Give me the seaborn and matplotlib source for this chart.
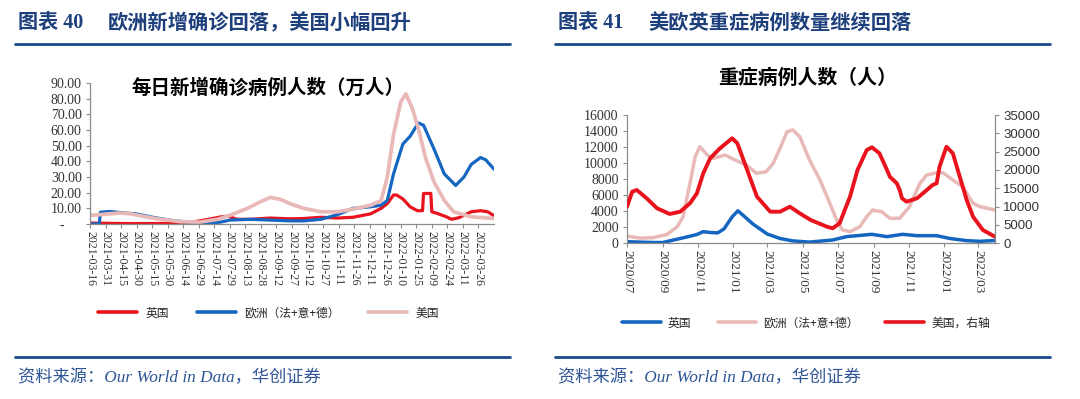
import numpy as np
import pandas as pd
import matplotlib
matplotlib.use("Agg")
import matplotlib.pyplot as plt
import seaborn as sns
from matplotlib.lines import Line2D
import matplotlib.dates as mdates

# ---------------- data: left chart (daily new cases, 10k) ----------------
uk_new_dates = ['2021-03-16', '2021-04-04', '2021-04-24', '2021-05-18', '2021-06-06', '2021-06-20',
                '2021-06-30', '2021-07-10', '2021-07-20', '2021-07-27', '2021-08-05', '2021-08-18',
                '2021-09-06', '2021-09-25', '2021-10-08', '2021-10-25', '2021-11-10', '2021-11-25',
                '2021-12-12', '2021-12-22', '2021-12-28', '2022-01-03', '2022-01-06', '2022-01-12',
                '2022-01-19', '2022-01-26', '2022-01-31', '2022-02-01', '2022-02-08', '2022-02-09',
                '2022-02-14', '2022-02-23', '2022-02-28', '2022-03-07', '2022-03-19', '2022-03-28',
                '2022-04-04', '2022-04-10']
uk_new = [0.6, 0.4, 0.3, 0.3, 0.5, 1.0,
          2.0, 3.2, 4.5, 5.0, 3.0, 3.0,
          3.8, 3.3, 3.5, 4.3, 3.8, 4.3,
          6.5, 10.0, 13.0, 18.5, 18.5, 16.0,
          11.0, 8.5, 8.5, 19.5, 19.5, 7.8,
          6.8, 4.6, 3.0, 4.0, 7.8, 8.5,
          7.8, 5.3]

eu_new_dates = ['2021-03-16', '2021-03-25', '2021-03-26', '2021-04-04', '2021-04-19', '2021-04-29',
                '2021-05-18', '2021-06-06', '2021-06-26', '2021-07-10', '2021-07-20', '2021-07-29',
                '2021-08-18', '2021-09-06', '2021-09-25', '2021-10-08', '2021-10-25', '2021-11-10',
                '2021-11-25', '2021-12-12', '2021-12-22', '2021-12-28', '2022-01-03', '2022-01-12',
                '2022-01-19', '2022-01-27', '2022-02-01', '2022-02-11', '2022-02-21', '2022-03-04',
                '2022-03-12', '2022-03-19', '2022-03-28', '2022-04-02', '2022-04-10']
eu_new = [0.0, 0.0, 7.5, 8.0, 7.0, 6.5,
          4.0, 2.0, 0.8, 0.6, 1.2, 2.5,
          3.0, 2.5, 2.0, 2.0, 3.0, 6.0,
          10.0, 11.0, 12.0, 15.0, 32.0, 51.0,
          56.0, 64.5, 63.0, 48.0, 32.0, 24.6,
          30.0, 38.0, 42.4, 41.0, 35.0]

us_new_dates = ['2021-03-16', '2021-04-04', '2021-04-13', '2021-04-24', '2021-05-18', '2021-06-11',
                '2021-06-30', '2021-07-17', '2021-07-29', '2021-08-15', '2021-08-27', '2021-09-06',
                '2021-09-16', '2021-09-25', '2021-10-08', '2021-10-25', '2021-11-10', '2021-11-25',
                '2021-12-12', '2021-12-22', '2021-12-28', '2022-01-03', '2022-01-10', '2022-01-15',
                '2022-01-21', '2022-01-27', '2022-02-03', '2022-02-11', '2022-02-21', '2022-03-02',
                '2022-03-19', '2022-04-10']
us_new = [5.5, 6.5, 7.0, 6.5, 3.5, 1.5,
          1.2, 3.0, 5.5, 10.0, 14.0, 17.0,
          15.7, 13.0, 10.0, 7.8, 7.8, 9.5,
          12.0, 15.0, 30.0, 57.0, 78.0, 83.0,
          74.0, 61.0, 42.0, 27.0, 15.0, 7.8,
          4.6, 3.5]

left_yticks = [0, 10, 20, 30, 40, 50, 60, 70, 80, 90]
left_yticklabels = ['-     ', '10.00', '20.00', '30.00', '40.00', '50.00', '60.00', '70.00', '80.00', '90.00']

# ---------------- data: right chart (ICU patients) ----------------
uk_icu_dates = ['2020-07-01', '2020-08-15', '2020-09-01', '2020-09-19', '2020-10-13', '2020-10-30',
                '2020-11-10', '2020-11-22', '2020-12-05', '2020-12-16', '2020-12-30', '2021-01-09',
                '2021-01-21', '2021-02-04', '2021-03-01', '2021-03-23', '2021-04-14', '2021-05-13',
                '2021-06-22', '2021-07-16', '2021-08-29', '2021-09-24', '2021-10-21', '2021-11-15',
                '2021-12-19', '2022-01-11', '2022-02-09', '2022-03-04', '2022-03-30']
uk_icu = [200, 100, 100, 400, 800, 1100,
          1450, 1350, 1300, 1800, 3300, 4050,
          3300, 2400, 1150, 600, 300, 150,
          410, 830, 1120, 830, 1120, 950,
          950, 600, 330, 250, 350]

eu_icu_dates = ['2020-07-01', '2020-07-23', '2020-08-15', '2020-09-08', '2020-09-26', '2020-10-06',
                '2020-10-18', '2020-10-27', '2020-11-04', '2020-11-17', '2020-11-27', '2020-12-18',
                '2021-01-04', '2021-01-24', '2021-02-10', '2021-02-27', '2021-03-11', '2021-03-23',
                '2021-04-04', '2021-04-14', '2021-04-26', '2021-05-13', '2021-05-31', '2021-06-17',
                '2021-06-29', '2021-07-09', '2021-07-22', '2021-08-08', '2021-08-20', '2021-08-30',
                '2021-09-15', '2021-09-29', '2021-10-16', '2021-11-02', '2021-11-20', '2021-12-02',
                '2021-12-19', '2021-12-30', '2022-01-16', '2022-02-02', '2022-02-20', '2022-03-04',
                '2022-03-30']
eu_icu = [900, 650, 700, 1100, 2070, 3300,
          7480, 10800, 12050, 11010, 10600, 11010,
          10390, 9760, 8730, 8930, 9980, 11850,
          13920, 14140, 13300, 10390, 7900, 4990,
          2900, 1660, 1450, 2070, 3320, 4150,
          3940, 3120, 3120, 4570, 7480, 8520,
          8800, 8800, 7900, 7060, 4990, 4570,
          4150]

us_icu_dates = ['2020-07-01', '2020-07-10', '2020-07-18', '2020-08-04', '2020-08-22', '2020-09-13',
                '2020-10-01', '2020-10-18', '2020-10-30', '2020-11-10', '2020-11-22', '2020-12-09',
                '2020-12-30', '2021-01-08', '2021-01-25', '2021-02-11', '2021-03-06', '2021-03-23',
                '2021-04-09', '2021-04-26', '2021-05-15', '2021-06-12', '2021-06-22', '2021-07-04',
                '2021-07-22', '2021-08-04', '2021-08-20', '2021-08-29', '2021-09-11', '2021-09-24',
                '2021-09-29', '2021-10-11', '2021-10-16', '2021-10-20', '2021-10-28', '2021-11-15',
                '2021-12-02', '2021-12-12', '2021-12-19', '2021-12-24', '2022-01-05', '2022-01-16',
                '2022-01-28', '2022-02-09', '2022-02-20', '2022-03-09', '2022-03-30']
us_icu = [9990, 14080, 14540, 12280, 9550, 8000,
          8620, 10910, 13640, 19100, 23190, 25920,
          28640, 27280, 20000, 12710, 8620, 8620,
          9990, 8180, 6360, 4530, 4090, 5460,
          12710, 20000, 25450, 26190, 24550, 20000,
          18170, 16370, 14540, 12280, 11350, 12280,
          14540, 15900, 16370, 20900, 26350, 24550,
          18170, 11810, 7260, 3630, 1800]

# ---------------- texts ----------------
left_fig_no = '图表 40'
left_fig_title = '欧洲新增确诊回落，美国小幅回升'
right_fig_no = '图表 41'
right_fig_title = '美欧英重症病例数量继续回落'
left_chart_title = '每日新增确诊病例人数（万人）'
right_chart_title = '重症病例人数（人）'
left_legend = ['英国', '欧洲（法+意+德）', '美国']
right_legend = ['英国', '欧洲（法+意+德）', '美国，右轴']
source_text = '资料来源：Our World in Data，华创证券'

# ---------------- style ----------------
RED = '#E8131C'
BLUE = '#1566C0'
PINK = '#E9B9B8'
NAVY = '#1D3F7C'
RULE = '#1B4A8C'
SRC = '#2F5597'
SPINE = '#8C8C8C'
TICKC = '#333333'

sns.set_theme(style="white")
plt.rcParams['font.family'] = ['Liberation Serif', 'Noto Sans CJK SC', 'DejaVu Sans']
plt.rcParams['axes.unicode_minus'] = False

W, H = 1080, 399
fig = plt.figure(figsize=(W / 100, H / 100), dpi=100)


def fx(px):
    return px / W


def fy(py):
    return 1 - py / H


CJK = ['Noto Sans CJK SC', 'DejaVu Sans']
SERIF_CJK = ['Liberation Serif', 'Noto Sans CJK SC']

# header titles and rules
for x0, no, title, xt in [(18, left_fig_no, left_fig_title, 108), (558, right_fig_no, right_fig_title, 648)]:
    fig.text(fx(x0), fy(23), no, family=SERIF_CJK, fontsize=14.5, fontweight='bold',
             color=NAVY, va='center', ha='left')
    fig.text(fx(xt), fy(23), title, family=CJK, fontsize=14.6, fontweight='bold',
             color=NAVY, va='center', ha='left')
for x0, x1 in [(15, 510), (555, 1050)]:
    for yy in (43.5, 356.5):
        fig.add_artist(Line2D([fx(x0), fx(x1)], [fy(yy), fy(yy)], color=RULE, lw=2.0,
                              transform=fig.transFigure))
    fig.text(fx(x0 + 3), fy(378), source_text, family=SERIF_CJK, fontsize=12.4,
             style='italic', color=SRC, va='center', ha='left')

# ---------------- left chart ----------------
axL = fig.add_axes([fx(90), fy(224), fx(494) - fx(90), fy(83) - fy(224)])
dfs = [
    (pd.DataFrame({'date': pd.to_datetime(uk_new_dates), 'v': uk_new}), RED, 2.3),
    (pd.DataFrame({'date': pd.to_datetime(eu_new_dates), 'v': eu_new}), BLUE, 2.3),
    (pd.DataFrame({'date': pd.to_datetime(us_new_dates), 'v': us_new}), PINK, 2.7),
]
for df, c, lw in dfs:
    sns.lineplot(data=df, x='date', y='v', ax=axL, color=c, linewidth=lw, legend=False)

axL.set_xlim(pd.Timestamp('2021-03-16'), pd.Timestamp('2022-04-10'))
axL.set_ylim(0, 90)
axL.set_yticks(left_yticks, left_yticklabels)
xt = pd.date_range('2021-03-16', '2022-03-26', freq='15D')
axL.set_xticks(xt, [d.strftime('%Y-%m-%d') for d in xt])
axL.tick_params(axis='x', labelrotation=-90, labelsize=8.5, colors=TICKC, length=3,
                width=0.8, direction='out', bottom=True, pad=2)
axL.tick_params(axis='y', labelsize=10, colors=TICKC, length=3, width=0.8,
                direction='out', left=True, pad=3)
for lbl in axL.get_xticklabels() + axL.get_yticklabels():
    lbl.set_fontfamily('Liberation Serif')
for s in ['top', 'right']:
    axL.spines[s].set_visible(False)
for s in ['left', 'bottom']:
    axL.spines[s].set_color(SPINE)
    axL.spines[s].set_linewidth(0.9)
axL.tick_params(axis='both', color=SPINE)
axL.set_xlabel('')
axL.set_ylabel('')
axL.grid(False)
fig.text(fx(268), fy(88), left_chart_title, family=CJK, fontsize=14, fontweight='bold',
         color='black', ha='center', va='center')

hL = [Line2D([], [], color=RED, lw=2.6), Line2D([], [], color=BLUE, lw=2.6),
      Line2D([], [], color=PINK, lw=2.6)]
fig.legend(hL, left_legend, loc='center left', bbox_to_anchor=(fx(98), fy(313)),
           ncol=3, frameon=False, prop={'family': CJK, 'size': 8.5},
           handlelength=3.3, handletextpad=0.7, columnspacing=2.4, borderpad=0,
           borderaxespad=0)

# ---------------- right chart ----------------
axR = fig.add_axes([fx(627), fy(243.3), fx(995) - fx(627), fy(115) - fy(243.3)])
axR2 = axR.twinx()
sns.lineplot(data=pd.DataFrame({'date': pd.to_datetime(uk_icu_dates), 'v': uk_icu}),
             x='date', y='v', ax=axR, color=BLUE, linewidth=2.5, legend=False)
sns.lineplot(data=pd.DataFrame({'date': pd.to_datetime(eu_icu_dates), 'v': eu_icu}),
             x='date', y='v', ax=axR, color=PINK, linewidth=2.5, legend=False)
sns.lineplot(data=pd.DataFrame({'date': pd.to_datetime(us_icu_dates), 'v': us_icu}),
             x='date', y='v', ax=axR2, color=RED, linewidth=2.8, legend=False)

xlim_r = (pd.Timestamp('2020-07-01'), pd.Timestamp('2022-03-30'))
axR.set_xlim(*xlim_r)
axR2.set_xlim(*xlim_r)
axR.set_ylim(0, 16000)
axR2.set_ylim(0, 35000)
axR.set_yticks(range(0, 16001, 2000))
axR2.set_yticks(range(0, 35001, 5000))
xr = pd.date_range('2020-07-01', '2022-03-01', freq='2MS')
axR.set_xticks(xr, [d.strftime('%Y/%m') for d in xr])
axR.tick_params(axis='x', labelrotation=-90, labelsize=9.5, colors=TICKC, length=3,
                width=0.8, direction='out', bottom=True, pad=2)
axR.tick_params(axis='y', labelsize=10, colors=TICKC, length=3, width=0.8,
                direction='out', left=True, pad=3)
axR2.tick_params(axis='y', labelsize=10, colors=TICKC, length=3, width=0.8,
                 direction='out', right=True, pad=3)
for lbl in axR.get_xticklabels() + axR.get_yticklabels():
    lbl.set_fontfamily('Liberation Serif')
for lbl in axR2.get_yticklabels():
    lbl.set_fontfamily('Liberation Sans')
    lbl.set_fontsize(9.5)
for a in (axR, axR2):
    a.spines['top'].set_visible(False)
    for s in ['left', 'bottom', 'right']:
        a.spines[s].set_color(SPINE)
        a.spines[s].set_linewidth(0.9)
    a.tick_params(axis='both', color=SPINE)
    a.set_xlabel('')
    a.set_ylabel('')
    a.grid(False)
axR.spines['right'].set_visible(False)
axR2.spines['left'].set_visible(False)
axR2.spines['bottom'].set_visible(False)
fig.text(fx(808), fy(77), right_chart_title, family=CJK, fontsize=14.3, fontweight='bold',
         color='black', ha='center', va='center')

hR = [Line2D([], [], color=BLUE, lw=2.6), Line2D([], [], color=PINK, lw=2.6),
      Line2D([], [], color=RED, lw=2.6)]
fig.legend(hR, right_legend, loc='center left', bbox_to_anchor=(fx(622), fy(323)),
           ncol=3, frameon=False, prop={'family': CJK, 'size': 8.5},
           handlelength=3.3, handletextpad=0.6, columnspacing=2.2, borderpad=0,
           borderaxespad=0)

fig.savefig('out.png', dpi=100, facecolor='white')
